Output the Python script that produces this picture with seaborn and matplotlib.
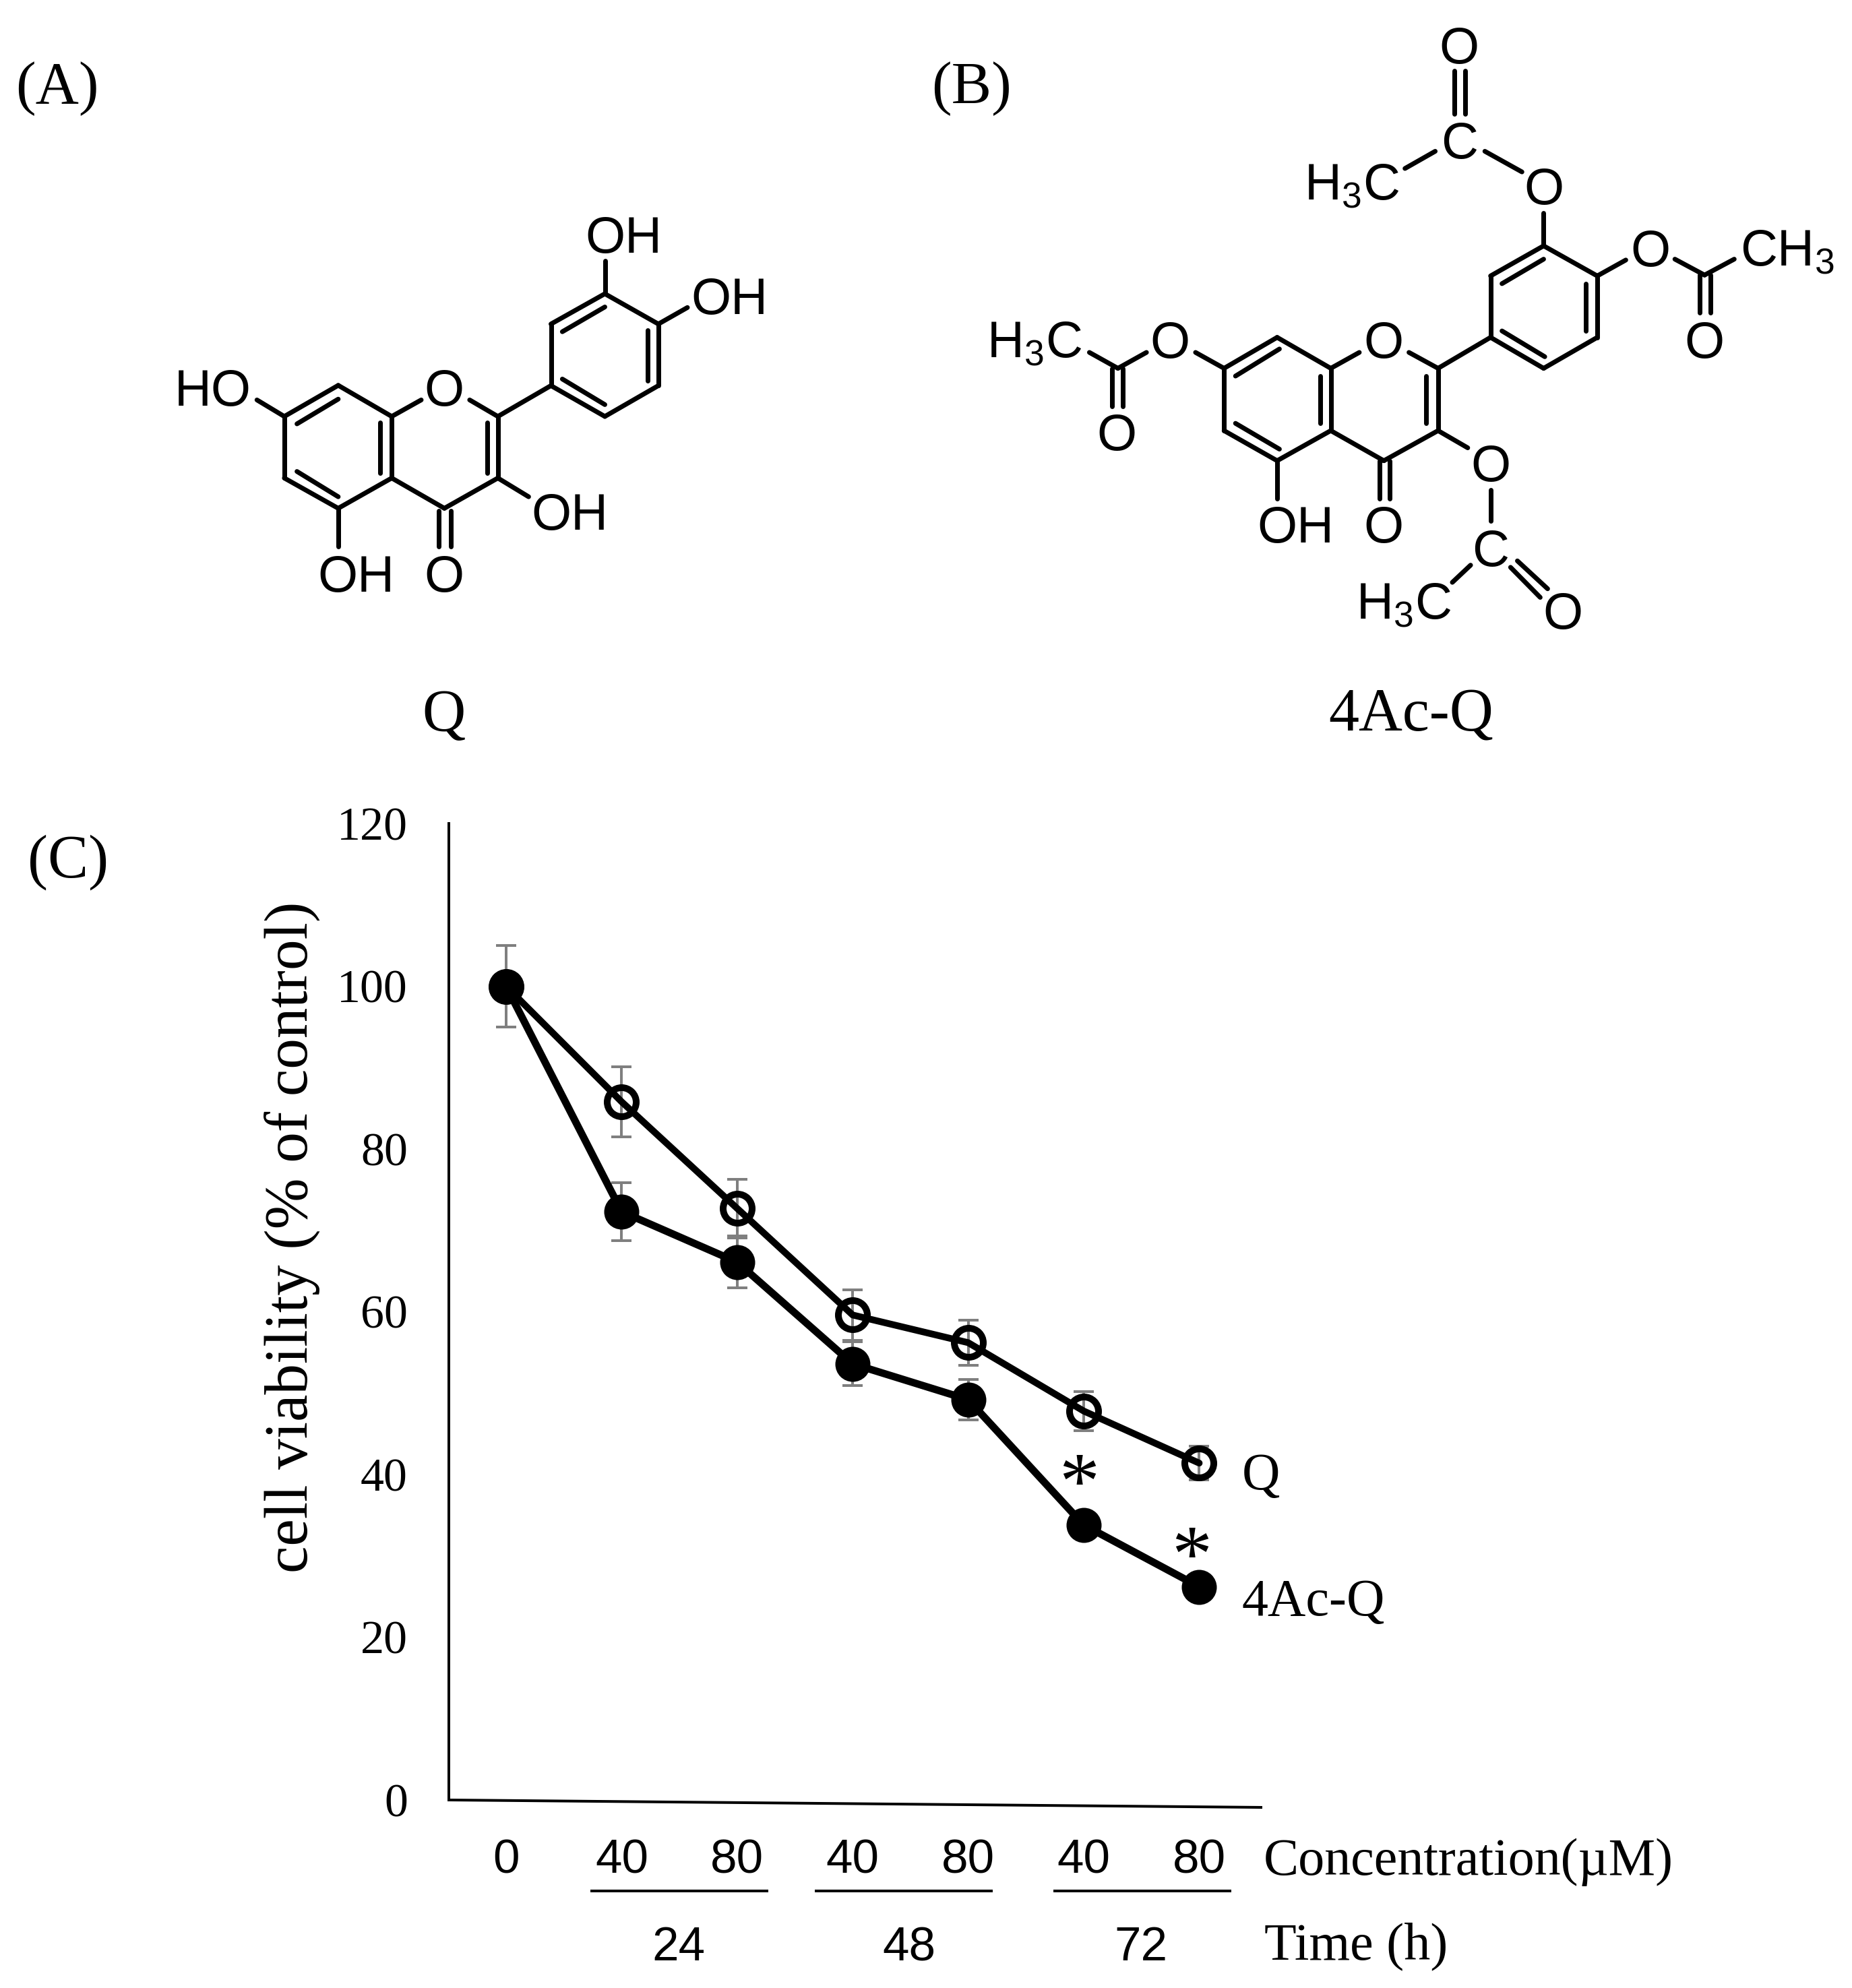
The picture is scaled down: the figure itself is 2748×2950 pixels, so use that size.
# ====================================================
# FIGURE: Q and 4Ac-Q structures + cell viability plot
# ====================================================
import matplotlib
matplotlib.use('Agg')
import matplotlib.pyplot as plt
import pandas as pd
import seaborn as sns

# ====================================================
# DATA
# ====================================================
concentrations = ['0', '40', '80', '40', '80', '40', '80']
time_labels = ['24', '48', '72']
y_ticks = [0, 20, 40, 60, 80, 100, 120]

q_values = [100, 85.8, 72.7, 59.6, 56.2, 47.8, 41.4]
q_errors = [5.0, 4.3, 3.6, 3.1, 2.8, 2.4, 2.1]
ac_values = [100, 72.3, 66.1, 53.6, 49.2, 33.8, 26.2]
ac_errors = [5.0, 3.6, 3.2, 2.7, 2.5, 1.5, 1.5]

positions = list(range(len(concentrations)))
df_q = pd.DataFrame({'position': positions, 'viability': q_values})
df_ac = pd.DataFrame({'position': positions, 'viability': ac_values})

# ====================================================
# SETUP
# ====================================================
W, H = 2748, 2950
DPI = 100
PX = 72 / DPI   # one output pixel in points

sns.set_theme(style='white')
plt.rcParams['mathtext.default'] = 'regular'
SERIF = 'Liberation Serif'
SANS = 'Liberation Sans'

fig = plt.figure(figsize=(W / DPI, H / DPI), dpi=DPI, facecolor='white')

# full figure overlay working in pixels, y going down
over = fig.add_axes([0, 0, 1, 1], zorder=5)
over.set_xlim(0, W)
over.set_ylim(H, 0)
over.axis('off')
over.patch.set_alpha(0)

# ====================================================
# PANEL C
# ====================================================
ax_left, ax_right, ax_top, ax_bottom = 666, 1873, 1222, 2671
ax = fig.add_axes([ax_left / W, 1 - ax_bottom / H, (ax_right - ax_left) / W, (ax_bottom - ax_top) / H])

ax.errorbar(positions, q_values, yerr=q_errors, fmt='none', ecolor='#7f7f7f',
            elinewidth=4 * PX, capsize=15 * PX, capthick=4 * PX, zorder=1)
ax.errorbar(positions, ac_values, yerr=ac_errors, fmt='none', ecolor='#7f7f7f',
            elinewidth=4 * PX, capsize=15 * PX, capthick=4 * PX, zorder=1)

sns.lineplot(data=df_q, x='position', y='viability', ax=ax, color='black', errorbar=None,
             linewidth=10 * PX, marker='o', markersize=43 * PX, markerfacecolor='none',
             markeredgecolor='black', markeredgewidth=10 * PX, solid_capstyle='round', zorder=3)
sns.lineplot(data=df_ac, x='position', y='viability', ax=ax, color='black', errorbar=None,
             linewidth=11 * PX, marker='o', markersize=52 * PX, markerfacecolor='black',
             markeredgewidth=0, zorder=4)

# 171.4 px between points, first point at x=751
ax.set_xlim((ax_left - 751) / 171.4, (ax_right - 751) / 171.4)
ax.set_ylim(0, 120)
ax.set_yticks(y_ticks)
ax.set_yticklabels([str(v) for v in y_ticks], family=SERIF, fontsize=70 * PX)
ax.set_xticks(positions)
ax.set_xticklabels(concentrations, family=SANS, fontsize=71 * PX)
ax.tick_params(axis='y', length=0, pad=61 * PX, labelcolor='black')
ax.tick_params(axis='x', length=0, pad=58 * PX, labelcolor='black')
ax.grid(False)
ax.set_xlabel('')
ax.set_ylabel('cell viability (% of control)', family=SERIF, fontsize=91 * PX, va='baseline', color='black')
ax.yaxis.set_label_coords((456 - ax_left) / (ax_right - ax_left), (ax_bottom - 1836) / (ax_bottom - ax_top))

for side in ['top', 'right', 'bottom']:
    ax.spines[side].set_visible(False)
ax.spines['left'].set_color('black')
ax.spines['left'].set_linewidth(4 * PX)
ax.patch.set_alpha(0)

# x axis in the source is drawn slightly tilted
over.plot([ax_left, ax_right], [2671, 2682], color='black', lw=4 * PX, solid_capstyle='butt')

# time group underlines and labels
for x0, x1 in [(876, 1140), (1209, 1473), (1563, 1827)]:
    over.plot([x0, x1], [2806, 2806], color='black', lw=4 * PX, solid_capstyle='butt')
for label, x in zip(time_labels, [1007, 1349, 1693]):
    over.text(x, 2909, label, family=SANS, fontsize=71 * PX, ha='center', va='baseline', color='black')


def serif_text(x, y, s, size=78, ha='left'):
    over.text(x, y, s, family=SERIF, fontsize=size * PX, ha=ha, va='baseline', color='black')


serif_text(1875, 2782, 'Concentration(µM)')
serif_text(1876, 2907, 'Time (h)')
serif_text(1843, 2210, 'Q')
serif_text(1842, 2397, '4Ac-Q')
serif_text(1601, 2238, '*', size=120, ha='center')
serif_text(1768, 2346, '*', size=120, ha='center')

# panel letters and compound names
serif_text(23, 153, '(A)', size=89)
serif_text(1382, 153, '(B)', size=89)
serif_text(41, 1302, '(C)', size=90)
serif_text(658, 1084, 'Q', size=89, ha='center')
serif_text(2094, 1084, '4Ac-Q', size=90, ha='center')


# ====================================================
# STRUCTURES (traced in crop coordinates, then scaled)
# ====================================================
def draw_structure(bonds, labels, sx, sy, ox, oy):
    for (x0, y0, x1, y1) in bonds:
        over.plot([x0 / sx + ox, x1 / sx + ox], [y0 / sy + oy, y1 / sy + oy], color='black',
                  lw=7 * PX, solid_capstyle='round')
    for (x, y, s) in labels:
        over.text(x / sx + ox, y / sy + oy, s, family=SANS, fontsize=76 * PX, ha='center', va='baseline',
                  color='black')


bonds_a = [
    (355, 828, 483, 715), (483, 715, 610, 828), (610, 828, 680, 768), (795, 768, 862, 828),
    (862, 828, 862, 1052), (862, 1052, 735, 1162), (735, 1162, 610, 1052), (610, 1052, 610, 828),
    (610, 1052, 483, 1162), (483, 1162, 355, 1052), (355, 1052, 355, 828),
    (862, 828, 988, 716), (988, 716, 988, 492), (988, 492, 1116, 382), (1116, 382, 1243, 492),
    (1243, 492, 1243, 716), (1243, 716, 1116, 828), (1116, 828, 988, 716),
    # inner lines of the double bonds
    (385, 855, 483, 765), (385, 1028, 483, 1120), (583, 850, 583, 1035), (837, 850, 837, 1035),
    (1015, 520, 1116, 430), (1218, 515, 1218, 698), (1015, 692, 1116, 785),
    # substituents
    (355, 828, 290, 768), (1116, 382, 1116, 262), (1243, 492, 1312, 432), (862, 1052, 935, 1120),
    (483, 1162, 483, 1300), (722, 1170, 722, 1300), (750, 1170, 750, 1300),
]
labels_a = [
    (185, 790, 'HO'), (735, 790, 'O'), (1160, 232, 'OH'), (1412, 455, 'OH'),
    (1032, 1240, 'OH'), (525, 1465, 'OH'), (735, 1465, 'O'),
]
draw_structure(bonds_a, labels_a, 1.6, 2.45, 200, 280)

bonds_b = [
    (468, 857, 561, 785), (561, 785, 655, 857), (655, 857, 705, 820), (792, 820, 843, 857),
    (843, 857, 843, 1002), (843, 1002, 748, 1072), (748, 1072, 655, 1002), (655, 1002, 655, 857),
    (655, 1002, 561, 1072), (561, 1072, 468, 1002), (468, 1002, 468, 857),
    (843, 857, 935, 785), (935, 785, 935, 642), (935, 642, 1028, 572), (1028, 572, 1122, 642),
    (1122, 642, 1122, 785), (1122, 785, 1028, 857), (1028, 857, 935, 785),
    # inner lines of the double bonds
    (488, 875, 565, 812), (488, 985, 565, 1045), (637, 875, 637, 985), (822, 875, 822, 985),
    (955, 660, 1028, 603), (1102, 660, 1102, 770), (955, 770, 1030, 830),
    # acetyl on 3'
    (1028, 572, 1028, 495), (990, 400, 925, 352), (838, 352, 785, 392),
    (872, 165, 872, 265), (890, 165, 890, 265),
    # acetyl on 4'
    (1122, 642, 1172, 605), (1258, 603, 1310, 640), (1310, 640, 1362, 603),
    (1302, 640, 1302, 728), (1320, 640, 1320, 728),
    # acetyl on 7
    (468, 857, 418, 820), (332, 820, 282, 857), (282, 857, 232, 820),
    (272, 857, 272, 945), (290, 857, 290, 945),
    # OH on 5 and C=O on 4
    (561, 1072, 561, 1160), (740, 1072, 740, 1160), (758, 1072, 758, 1160),
    # acetyl on 3
    (843, 1002, 895, 1042), (935, 1140, 935, 1212), (900, 1315, 868, 1355),
    (982, 1305, 1035, 1370), (970, 1320, 1022, 1390),
]
labels_b = [
    (748, 832, 'O'), (880, 147, 'O'), (880, 368, 'C'), (1028, 475, 'O'), (692, 465, 'H$_3$C'),
    (1215, 620, 'O'), (1455, 618, 'CH$_3$'), (1310, 832, 'O'), (373, 832, 'O'), (135, 832, 'H$_3$C'),
    (280, 1048, 'O'), (593, 1262, 'OH'), (748, 1262, 'O'), (935, 1120, 'O'), (935, 1317, 'C'),
    (783, 1440, 'H$_3$C'), (1062, 1463, 'O'),
]
draw_structure(bonds_b, labels_b, 1.181, 1.568, 1420, 0)

over.set_xlim(0, W)
over.set_ylim(H, 0)

fig.savefig('out.png', dpi=DPI, facecolor='white')
